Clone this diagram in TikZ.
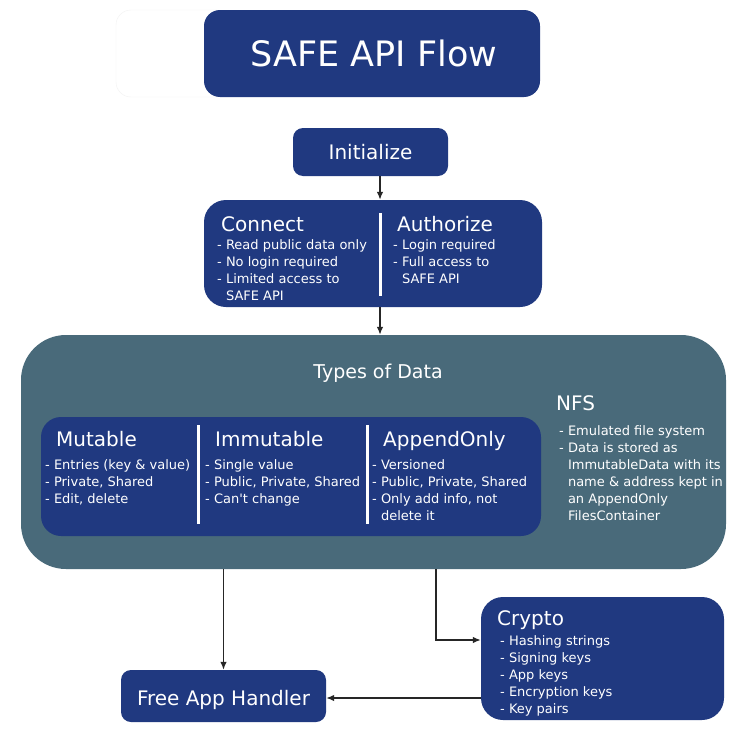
\documentclass[tikz,border=0pt]{standalone}
\usepackage{fontspec}
\setmainfont{DejaVu Sans}
\usepackage{xcolor}
\usetikzlibrary{arrows.meta}
\definecolor{safeblue}{RGB}{32,57,128}
\definecolor{safeteal}{RGB}{73,106,122}
\newcommand{\headfont}{\fontsize{20}{24}\selectfont}
\newcommand{\itemfont}{\fontsize{13}{17}\selectfont}
\newcommand{\indentitem}{\hphantom{- }}
\tikzset{
	bluebox/.style={draw=none, fill=safeblue, rounded corners=#1, text=white, inner sep=0pt},
	bluebox/.default=10pt,
	heading/.style={text=white, anchor=base west, inner sep=0pt, font=\headfont},
	itemlist/.style={text=white, anchor=north west, inner sep=0pt, align=left, font=\itemfont},
	divider/.style={draw=white, line width=3pt},
	flow/.style={draw=black!85, line width=1.4pt, -{Latex[length=8pt,width=6.5pt]}},
}
\begin{document}
\begin{tikzpicture}[x=1pt,y=-1pt]
	\useasboundingbox (0,0) rectangle (744,744);
	\fill[white] (0,0) rectangle (744,744);
	\coordinate (axis) at (380,0);
	\draw[black!5, rounded corners=15pt] (116,10) rectangle (230,97);
	\node[bluebox=16pt, minimum width=336pt, minimum height=87pt] (title) at (372,53.5) {};
	\node[text=white, anchor=base, inner sep=0pt, font=\fontsize{35}{42}\selectfont] (titletext) at (374,66) {SAFE API Flow};
	\node[bluebox=10pt, minimum width=155pt, minimum height=48pt, font=\headfont] (init) at (370.5,152) {Initialize};
	\node[bluebox=22pt, minimum width=338pt, minimum height=107pt] (access) at (373,253.5) {};
	\draw[divider] (380,213) -- (380,296);
	\node[heading] (connect) at (221,231) {Connect};
	\node[itemlist] (connectlist) at (217,239.5) {- Read public data only\\- No login required\\- Limited access to\\\indentitem SAFE API};
	\node[heading] (authorize) at (397,231) {Authorize};
	\node[itemlist] (authorizelist) at (393,239.5) {- Login required\\- Full access to\\\indentitem SAFE API};
	\node[fill=safeteal, rounded corners=45pt, minimum width=705pt, minimum height=234pt, inner sep=0pt] (types) at (373.5,452) {};
	\node[text=white, anchor=base, inner sep=0pt, font=\fontsize{19}{23}\selectfont] (typestitle) at (378,378) {Types of Data};
	\node[bluebox=20pt, minimum width=500pt, minimum height=119pt] (kinds) at (291,476.5) {};
	\draw[divider] (198,425) -- (198,524);
	\draw[divider] (367,425) -- (367,524);
	\node[heading] (mutable) at (56,446) {Mutable};
	\node[itemlist] (mutablelist) at (45,459.5) {- Entries (key \& value)\\- Private, Shared\\- Edit, delete};
	\node[heading] (immutable) at (215,446) {Immutable};
	\node[itemlist] (immutablelist) at (205,459.5) {- Single value\\- Public, Private, Shared\\- Can\textquotesingle t change};
	\node[heading] (appendonly) at (383,446) {AppendOnly};
	\node[itemlist] (appendonlylist) at (372,459.5) {- Versioned\\- Public, Private, Shared\\- Only add info, not\\\indentitem delete it};
	\node[heading] (nfs) at (556,410) {NFS};
	\node[itemlist] (nfslist) at (559,425.5) {- Emulated file system\\- Data is stored as\\\indentitem ImmutableData with its\\\indentitem name \& address kept in\\\indentitem an AppendOnly\\\indentitem FilesContainer};
	\node[bluebox=22pt, minimum width=243pt, minimum height=123pt] (crypto) at (602.5,658.5) {};
	\node[heading] (cryptotitle) at (497,625) {Crypto};
	\node[itemlist] (cryptolist) at (500,635.5) {- Hashing strings\\- Signing keys\\- App keys\\- Encryption keys\\- Key pairs};
	\node[bluebox=10pt, minimum width=205pt, minimum height=52pt] (free) at (223.5,696) {};
	\node[text=white, anchor=base, inner sep=0pt, font=\headfont] (freetext) at (223.5,705) {Free App Handler};
	\coordinate (split) at (436,569);
	\draw[flow] (init.south -| axis) -- (access.north -| axis);
	\draw[flow] (access.south -| axis) -- (types.north -| axis);
	\draw[flow] (types.south -| free.north) -- (free.north);
	\draw[flow] (split) |- ([yshift=18.5pt]crypto.west);
	\draw[flow] ([yshift=-2pt]crypto.west |- free.east) -- ([yshift=-2pt]free.east);
\end{tikzpicture}
\end{document}
